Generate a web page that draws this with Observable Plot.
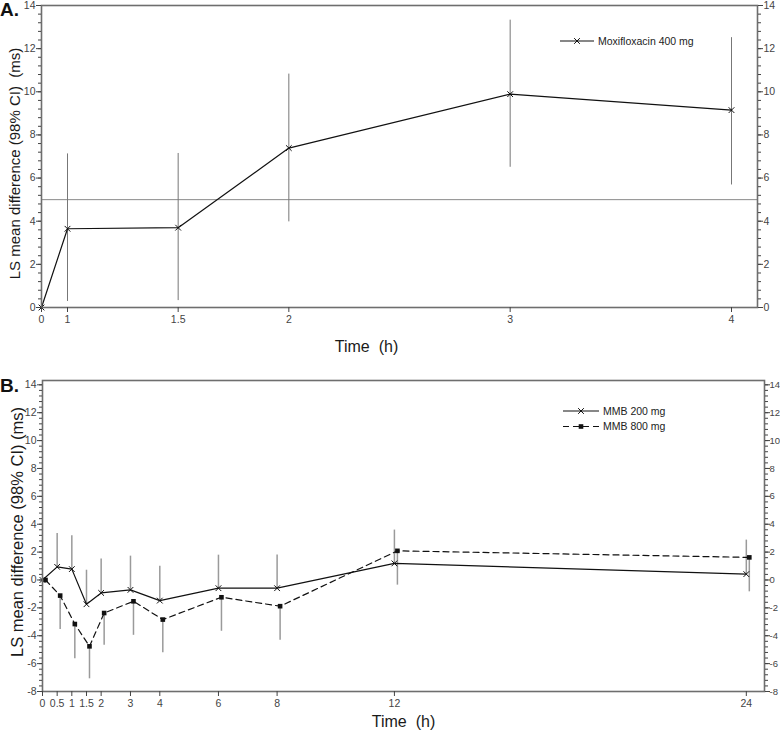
<!DOCTYPE html>
<html><head><meta charset="utf-8">
<script src="https://cdn.jsdelivr.net/npm/d3@7"></script>
<script src="https://cdn.jsdelivr.net/npm/@observablehq/plot@0.6"></script>
<style>
body{margin:0;background:#fff;}
#wrap{position:relative;width:780px;height:731px;font-family:"Liberation Sans",Arial,sans-serif;overflow:hidden;}
#wrap > svg{position:absolute;left:0;}
</style></head><body><div id="wrap"></div>
<script>
// ---------- Panel A: Moxifloxacin 400 mg ----------
const timeA      = [0, 1, 1.5, 2, 3, 4];
const moxiMean   = [0, 3.65, 3.70, 7.39, 9.89, 9.15];
const moxiLower  = [0, 0.28, 0.32, 3.97, 6.50, 5.68];
const moxiUpper  = [0, 7.12, 7.14, 10.82, 13.32, 12.51];
const xTicksA    = [0, 1, 1.5, 2, 3, 4];
const yTicksA    = [0, 2, 4, 6, 8, 10, 12, 14];
const refLineA   = [5];

// ---------- Panel B: MMB 200 mg / 800 mg ----------
const timeB       = [0, 0.5, 1, 1.5, 2, 3, 4, 6, 8, 12, 24];
const mmb200Mean  = [0, 0.94, 0.78, -1.74, -0.93, -0.71, -1.48, -0.59, -0.59, 1.19, 0.42];
const mmb200Upper = [0, 3.34, 3.17, 0.70, 1.50, 1.71, 0.99, 1.78, 1.80, 3.58, 2.86];
const mmb800Mean  = [0, -1.12, -3.16, -4.76, -2.37, -1.53, -2.84, -1.24, -1.88, 2.09, 1.62];
const mmb800Lower = [0, -3.56, -5.65, -7.09, -4.69, -3.97, -5.22, -3.68, -4.33, -0.37, -0.85];
const xTicksB     = [0, 0.5, 1, 1.5, 2, 3, 4, 6, 8, 12, 24];
const yTicksB     = [-8, -6, -4, -2, 0, 2, 4, 6, 8, 10, 12, 14];

const labelA = "Moxifloxacin 400 mg";
const label200 = "MMB 200 mg";
const label800 = "MMB 800 mg";
const yTitleA = "LS mean difference (98% CI)\u00a0 (ms)";
const yTitleB = "LS mean difference (98% CI) (ms)";
const xTitle = "Time\u00a0 (h)";

const dataA = timeA.map((t, i) => ({t, mean: moxiMean[i], lo: moxiLower[i], hi: moxiUpper[i]}));
const dataB200 = timeB.map((t, i) => ({t, mean: mmb200Mean[i], hi: mmb200Upper[i]}));
const dataB800 = timeB.map((t, i) => ({t, mean: mmb800Mean[i], lo: mmb800Lower[i]}));

const minorA = d3.range(0, 14.001, 0.4).map(v => +v.toFixed(2));
const minorB = d3.range(-8, 14.001, 0.4).map(v => +v.toFixed(2));

const FONT = '"Liberation Sans", Arial, sans-serif';
const TICKC = "#444";
const FRAMEC = "#6e6e6e";
const fmt = d => `${d}`;

// Panel A time axis is broken: the 0–1 h segment is compressed (as in the original)
const brokenTime = d3.scaleLinear().domain([0, 1, 4]).range([0, 26, 690]);

function yAxes(major, minor, rightFont, rightPad) {
  return [
    Plot.axisY(minor, {anchor: "left", tickSize: 3, tickFormat: () => "", label: null, color: TICKC}),
    Plot.axisY(major, {anchor: "left", tickSize: 5, tickPadding: 1, fontSize: 10.5, tickFormat: fmt, label: null, color: TICKC}),
    Plot.axisY(minor, {anchor: "right", tickSize: 3, tickFormat: () => "", label: null, color: TICKC}),
    Plot.axisY(major, {anchor: "right", tickSize: 5, tickPadding: rightPad, fontSize: rightFont, tickFormat: fmt, label: null, color: TICKC})
  ];
}

const wrap = document.getElementById("wrap");

// ---- Panel A ----
const plotA = Plot.plot({
  width: 780, height: 365,
  marginLeft: 41, marginRight: 23, marginTop: 5, marginBottom: 58,
  insetRight: 26,
  style: {fontFamily: FONT, background: "white", overflow: "visible"},
  x: {transform: brokenTime},
  y: {domain: [0, 14]},
  marks: [
    Plot.ruleY(refLineA, {stroke: "#8a8a8a", strokeWidth: 1}),
    Plot.ruleX(dataA.filter(d => d.hi !== d.lo), {x: "t", y1: "lo", y2: "hi", stroke: "#777", strokeWidth: 1}),
    Plot.line(dataA, {x: "t", y: "mean", stroke: "#111", strokeWidth: 1.2}),
    Plot.dot(dataA, {x: "t", y: "mean", symbol: "times", r: 2.7, stroke: "#111", strokeWidth: 1}),
    Plot.frame({stroke: FRAMEC, strokeWidth: 1.6}),
    ...yAxes(yTicksA, minorA, 10.5, 1),
    Plot.axisX(xTicksA, {anchor: "bottom", tickSize: 5, tickPadding: 3, fontSize: 10.5, tickFormat: fmt, label: null, color: TICKC}),
    Plot.text([xTitle], {frameAnchor: "bottom", dy: 44, dx: -33, fontSize: 16, fill: "#1a1a1a"}),
    Plot.text([yTitleA], {frameAnchor: "left", textAnchor: "middle", rotate: -90, dx: -26, dy: 7, fontSize: 15, fill: "#1a1a1a"})
  ]
});
plotA.style.top = "0px";
wrap.appendChild(plotA);

// ---- Panel B ----
const plotB = Plot.plot({
  width: 780, height: 366,
  marginLeft: 42, marginRight: 16, marginTop: 15, marginBottom: 40,
  style: {fontFamily: FONT, background: "white", overflow: "visible"},
  x: {domain: [0, 24.62]},
  y: {domain: [-8, 14.31]},
  marks: [
    Plot.ruleX(dataB200.filter(d => d.hi !== d.mean), {x: "t", y1: "mean", y2: "hi", stroke: "#9a9a9a", strokeWidth: 1.5}),
    Plot.ruleX(dataB800.filter(d => d.lo !== d.mean), {x: "t", y1: "lo", y2: "mean", dx: 3, stroke: "#9a9a9a", strokeWidth: 1.5}),
    Plot.line(dataB200, {x: "t", y: "mean", stroke: "#111", strokeWidth: 1.2}),
    Plot.line(dataB800, {x: "t", y: "mean", dx: 3, stroke: "#111", strokeWidth: 1.2, strokeDasharray: "6,4"}),
    Plot.dot(dataB200, {x: "t", y: "mean", symbol: "times", r: 2.7, stroke: "#111", strokeWidth: 1}),
    Plot.dot(dataB800, {x: "t", y: "mean", dx: 3, symbol: "square", r: 2.6, fill: "#111", stroke: "none"}),
    Plot.frame({stroke: FRAMEC, strokeWidth: 1.6}),
    ...yAxes(yTicksB, minorB, 9.5, 0),
    Plot.axisX(xTicksB, {anchor: "bottom", tickSize: 5, tickPadding: 3, fontSize: 10.5, tickFormat: fmt, label: null, color: TICKC}),
    Plot.text([xTitle], {frameAnchor: "bottom", dy: 35, fontSize: 16, fill: "#1a1a1a"}),
    Plot.text([yTitleB], {frameAnchor: "left", textAnchor: "middle", rotate: -90, dx: -25, dy: -4, fontSize: 16.5, fill: "#1a1a1a"})
  ]
});
plotB.style.top = "365px";
wrap.appendChild(plotB);

// ---- Overlay: panel letters and legends ----
const ov = d3.select(wrap).append("svg")
  .attr("width", 780).attr("height", 731)
  .style("top", "0px").style("pointer-events", "none")
  .style("font-family", FONT);

ov.append("text").attr("x", 0).attr("y", 16).attr("font-size", 19).attr("font-weight", "bold").attr("fill", "#111").text("A.");
ov.append("text").attr("x", 0).attr("y", 392).attr("font-size", 19).attr("font-weight", "bold").attr("fill", "#111").text("B.");

const timesPath = d3.symbol(d3.symbolTimes, Math.PI * 2.7 * 2.7)();
const squarePath = d3.symbol(d3.symbolSquare, Math.PI * 2.6 * 2.6)();

function legendItem(g, x0, x1, y, tx, label, dashed, square) {
  g.append("line").attr("x1", x0).attr("x2", x1).attr("y1", y).attr("y2", y)
    .attr("stroke", "#111").attr("stroke-width", 1.2)
    .attr("stroke-dasharray", dashed ? "6,4" : null);
  const mx = (x0 + x1) / 2;
  if (square) {
    g.append("path").attr("d", squarePath).attr("transform", `translate(${mx},${y})`).attr("fill", "#111");
  } else {
    g.append("path").attr("d", timesPath).attr("transform", `translate(${mx},${y})`).attr("fill", "none").attr("stroke", "#111").attr("stroke-width", 1);
  }
  g.append("text").attr("x", tx).attr("y", y).attr("dy", "0.35em").attr("font-size", 10.5).attr("fill", "#222").text(label);
}
legendItem(ov, 560, 594, 41, 598, labelA, false, false);
legendItem(ov, 563, 599, 411, 603, label200, false, false);
legendItem(ov, 563, 599, 426.5, 603, label800, true, true);
</script>
</body></html>
